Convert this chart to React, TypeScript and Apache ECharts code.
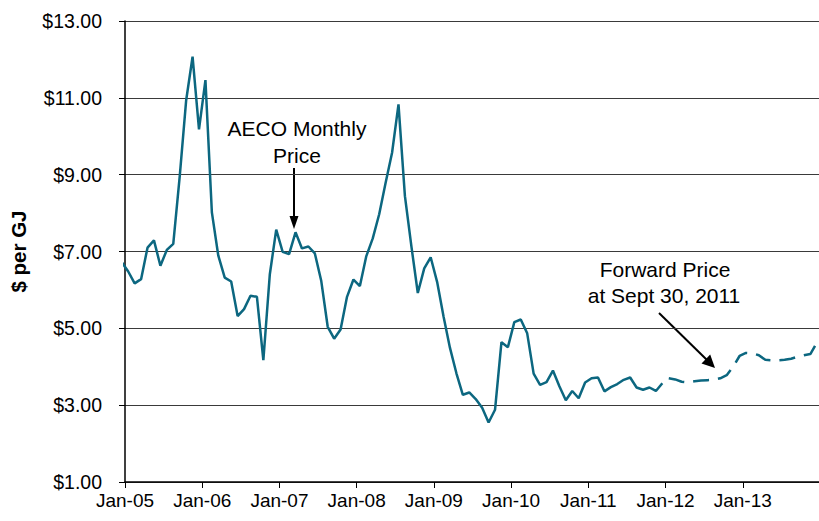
import React, { useEffect, useRef } from "react";
import * as echarts from "echarts";

// Month index 0 = Jan-05; points are plotted at mid-month
const TICK_LABELS = ["Jan-05", "Jan-06", "Jan-07", "Jan-08", "Jan-09", "Jan-10", "Jan-11", "Jan-12", "Jan-13"];

// AECO monthly price, Dec-04 .. Dec-11
const ACTUAL_START = -1;
const ACTUAL_PRICES = [
  6.72, 6.48, 6.17, 6.28, 7.1, 7.29, 6.63, 7.04, 7.2, 8.95, 10.93, 12.07, 10.18,
  11.46, 8.02, 6.89, 6.32, 6.22, 5.32, 5.5, 5.85, 5.82, 4.17, 6.4, 7.57,
  6.99, 6.93, 7.5, 7.08, 7.13, 6.95, 6.23, 5.04, 4.73, 4.97, 5.82, 6.27,
  6.1, 6.88, 7.34, 7.97, 8.79, 9.57, 10.83, 8.44, 7.14, 5.92, 6.56, 6.85,
  6.21, 5.31, 4.49, 3.83, 3.27, 3.33, 3.16, 2.93, 2.55, 2.88, 4.64, 4.51,
  5.16, 5.23, 4.87, 3.82, 3.53, 3.6, 3.9, 3.49, 3.13, 3.37, 3.18, 3.59,
  3.7, 3.72, 3.36, 3.47, 3.55, 3.66, 3.72, 3.46, 3.4, 3.46, 3.37, 3.57,
];

// Forward price at Sept 30, 2011, Jan-12 .. Dec-13
const FORWARD_START = 84;
const FORWARD_PRICES = [
  3.7, 3.67, 3.61, 3.59, 3.62, 3.64, 3.65, 3.66, 3.7, 3.78, 4.0, 4.28,
  4.36, 4.35, 4.3, 4.18, 4.17, 4.17, 4.18, 4.21, 4.26, 4.3, 4.33, 4.62,
];

const FONT = '"Liberation Sans", Arial, sans-serif';
const LINE_COLOR = "#0c6780";

export default function App() {
  const ref = useRef<HTMLDivElement>(null);
  useEffect(() => {
    if (!ref.current) return;
    const chart = echarts.init(ref.current, undefined, { renderer: "svg" });
    const actual = ACTUAL_PRICES.map((v, i) => [ACTUAL_START + i + 0.5, v]);
    const forward = FORWARD_PRICES.map((v, i) => [FORWARD_START + i + 0.5, v]);
    const ax = (x: number, y: number) => [x, y];
    const note = (text: string, x: number, y: number) => ({
      type: "text",
      x,
      y,
      style: { text, font: `21px ${FONT}`, fill: "#000", textAlign: "center", textVerticalAlign: "middle" },
    });
    chart.setOption({
      animation: false,
      grid: { left: 122, right: 0, top: 21, bottom: 39, containLabel: false },
      xAxis: {
        type: "value",
        min: 0,
        max: 108,
        interval: 12,
        axisLine: { show: true, onZero: false, lineStyle: { color: "#000", width: 1.5 } },
        axisTick: { show: true, length: 6, lineStyle: { color: "#000", width: 1 } },
        splitLine: { show: false },
        axisLabel: {
          margin: 9,
          color: "#000",
          fontFamily: FONT,
          fontSize: 19,
          formatter: (v: number) => TICK_LABELS[Math.round(v / 12)] ?? "",
        },
      },
      yAxis: {
        type: "value",
        min: 1,
        max: 13,
        interval: 2,
        name: "$ per GJ",
        nameLocation: "middle",
        nameGap: 96,
        nameTextStyle: { fontFamily: FONT, fontSize: 20.5, fontWeight: "bold", color: "#000" },
        axisLine: { show: true, lineStyle: { color: "#000", width: 1.5 } },
        axisTick: { show: true, length: 6, lineStyle: { color: "#000" } },
        splitLine: { show: true, lineStyle: { color: "#3a3a3a", width: 1 } },
        axisLabel: {
          margin: 23,
          color: "#000",
          fontFamily: FONT,
          fontSize: 19.5,
          formatter: (v: number) => "$" + v.toFixed(2),
        },
      },
      series: [
        {
          type: "line",
          data: actual,
          showSymbol: false,
          clip: true,
          lineStyle: { color: LINE_COLOR, width: 2.5 },
        },
        {
          type: "line",
          data: forward,
          showSymbol: false,
          clip: true,
          lineStyle: { color: LINE_COLOR, width: 2.5, type: [16, 9] },
        },
      ],
      graphic: [
        note("AECO Monthly", 297, 128),
        note("Price", 297, 155),
        { type: "line", shape: { x1: 294, y1: 168, x2: 294, y2: 218 }, style: { stroke: "#000", lineWidth: 2 } },
        { type: "polygon", shape: { points: [ax(289.5, 216), ax(298.5, 216), ax(294, 229)] }, style: { fill: "#000" } },
        note("Forward Price", 665, 269),
        note("at Sept 30, 2011", 664, 295),
        { type: "line", shape: { x1: 659, y1: 313, x2: 707, y2: 360 }, style: { stroke: "#000", lineWidth: 2 } },
        { type: "polygon", shape: { points: [ax(701.5, 363.5), ax(710.2, 354.6), ax(715, 368)] }, style: { fill: "#000" } },
      ],
    });
    return () => chart.dispose();
  }, []);
  return (
    <div
      ref={ref}
      style={{ position: "fixed", left: 0, top: 0, width: 823, height: 521, background: "#fff" }}
    />
  );
}
